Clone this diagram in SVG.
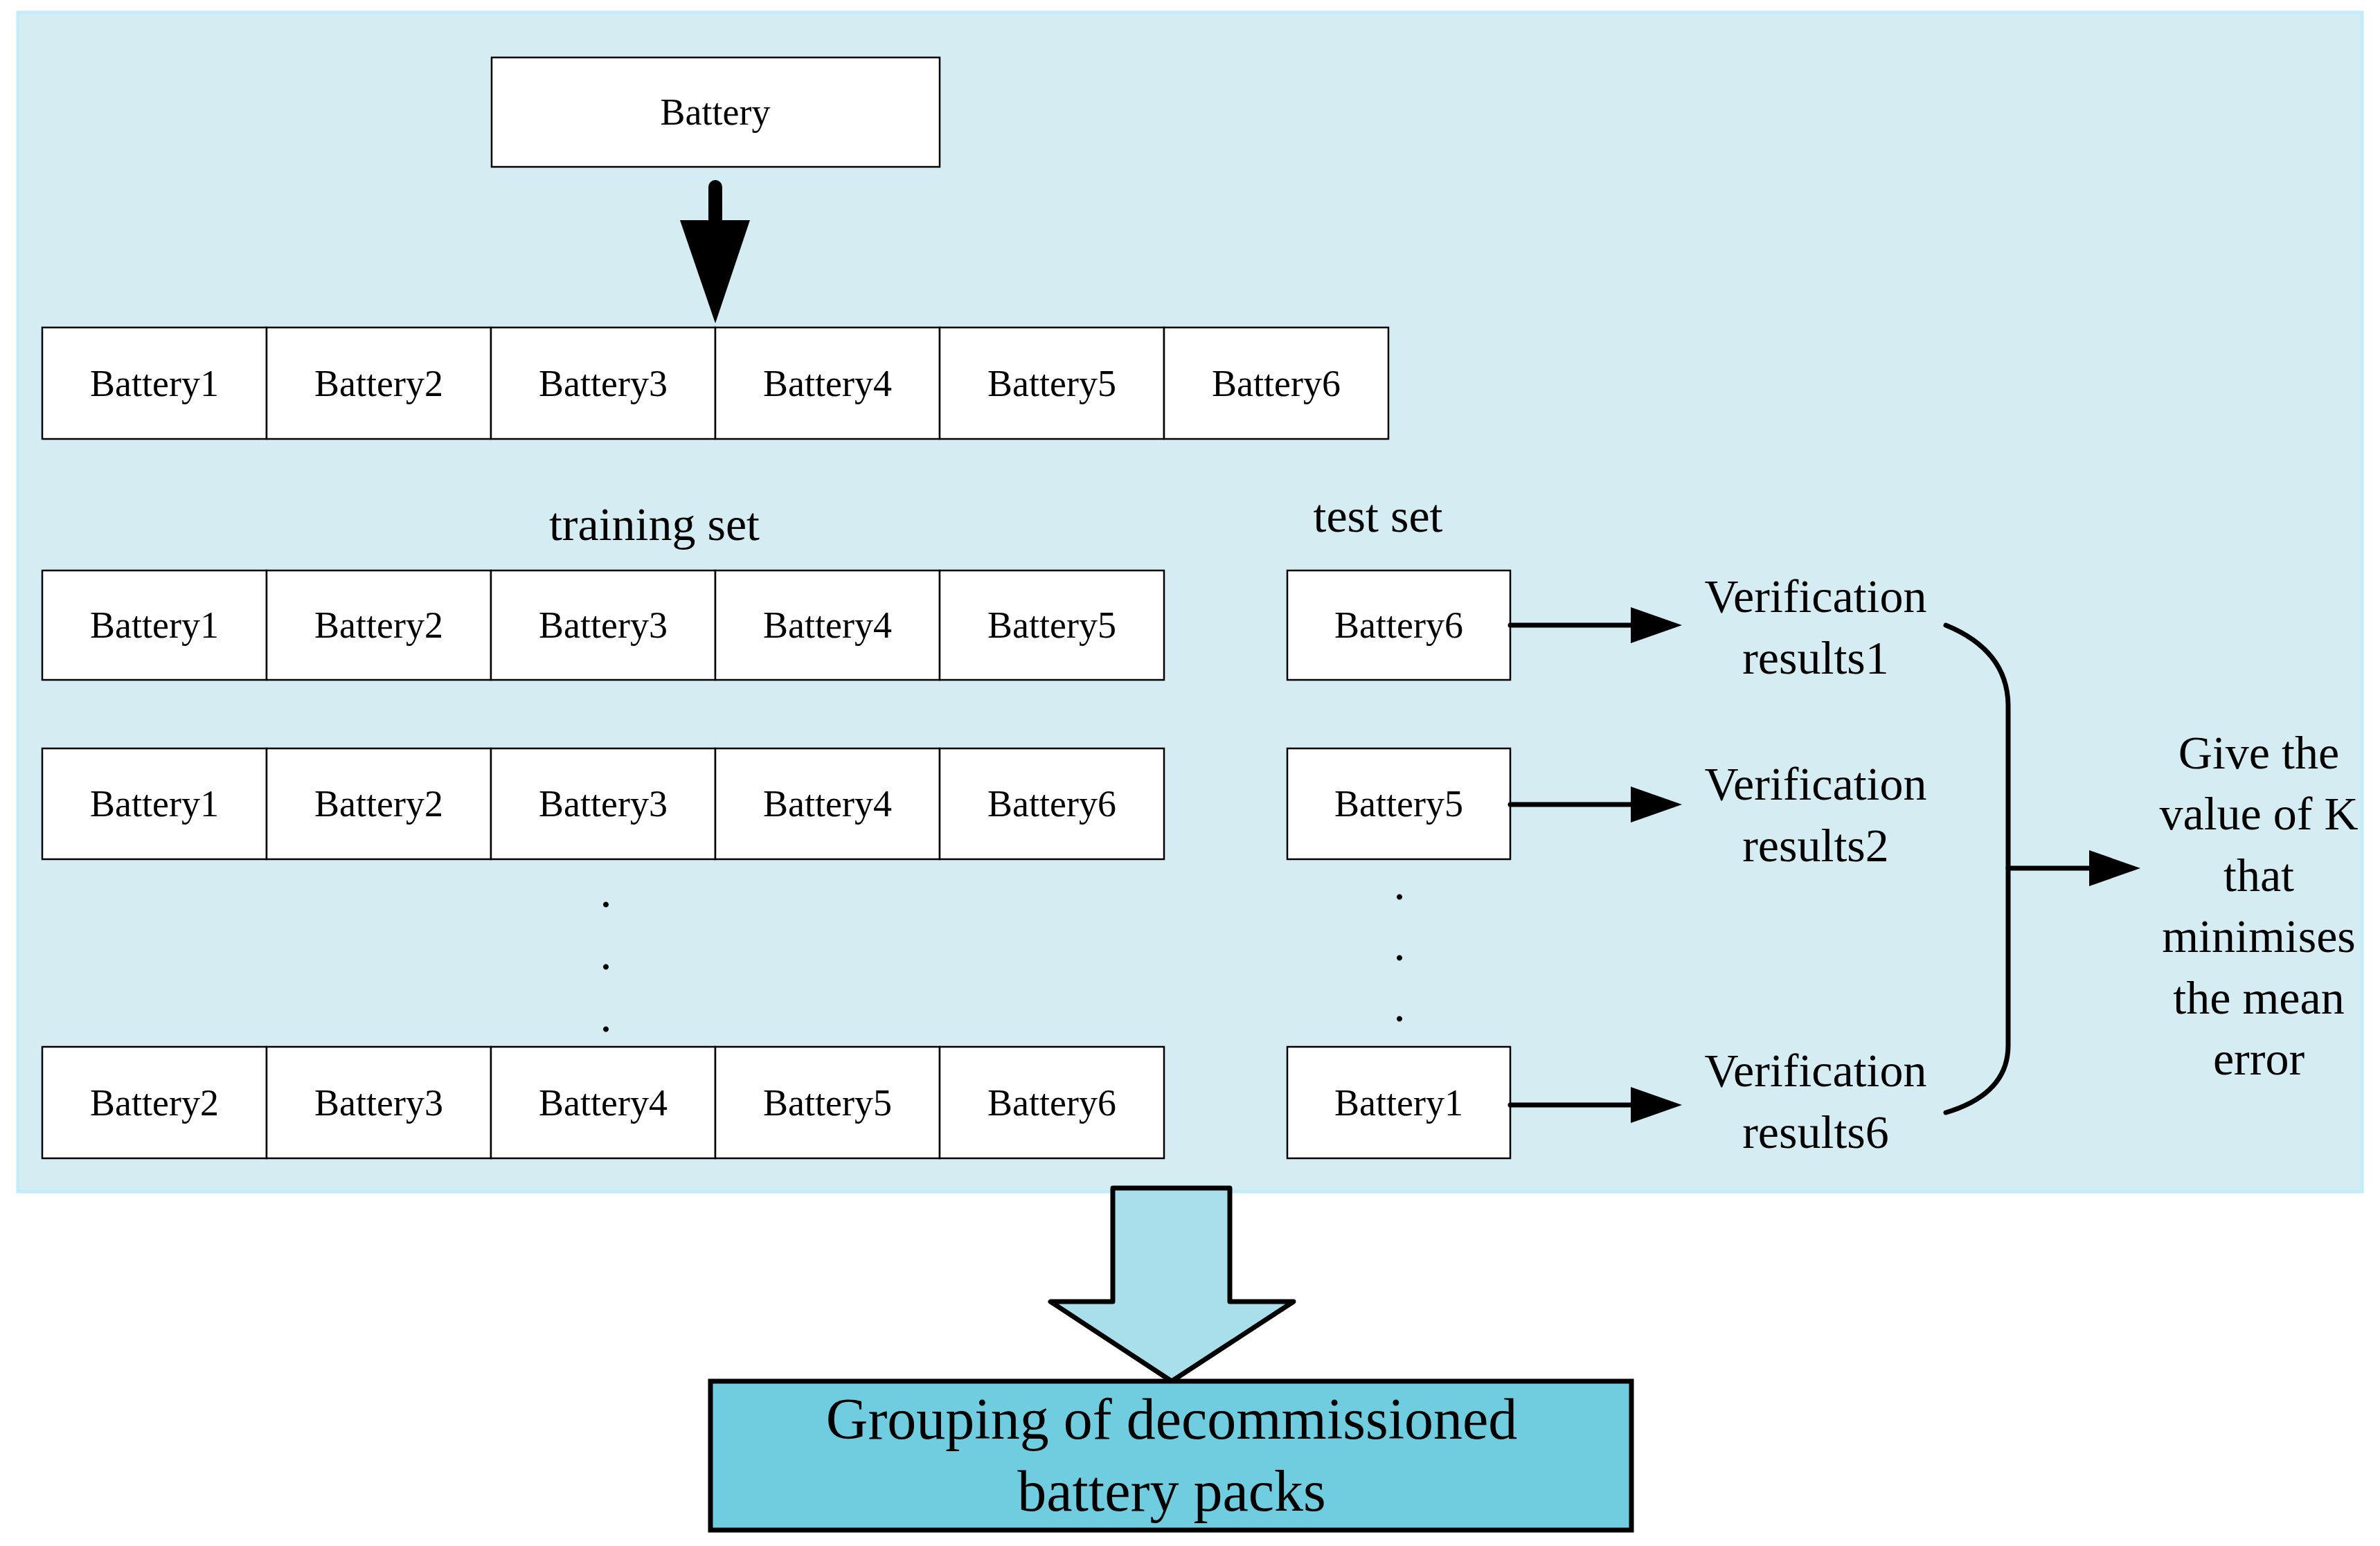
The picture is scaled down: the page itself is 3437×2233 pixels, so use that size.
<svg xmlns="http://www.w3.org/2000/svg" width="3437" height="2233" viewBox="0 0 3437 2233">
<style>
text{font-family:"Liberation Serif","Times New Roman",serif;text-anchor:middle;fill:#000}
.c{fill:#fff;stroke:#000;stroke-width:2.5}
.t{font-size:54px}
.l{font-size:68px}
.a{stroke:#000;stroke-width:7;fill:none;stroke-linecap:round}
.head{fill:#000}
</style>
<rect x="26" y="18" width="3385" height="1703" fill="#d5edf2" stroke="#c3ecfa" stroke-width="5"/>
<g id="battery"><rect class="c" x="710" y="83" width="647" height="158"/><text class="t" x="1033" y="180">Battery</text></g>
<g id="row1">
<rect class="c" x="61" y="473" width="324" height="161"/><text class="t" x="223" y="572">Battery1</text>
<rect class="c" x="385" y="473" width="324" height="161"/><text class="t" x="547" y="572">Battery2</text>
<rect class="c" x="709" y="473" width="324" height="161"/><text class="t" x="871" y="572">Battery3</text>
<rect class="c" x="1033" y="473" width="324" height="161"/><text class="t" x="1195" y="572">Battery4</text>
<rect class="c" x="1357" y="473" width="324" height="161"/><text class="t" x="1519" y="572">Battery5</text>
<rect class="c" x="1681" y="473" width="324" height="161"/><text class="t" x="1843" y="572">Battery6</text>
</g>
<text class="l" x="945" y="780">training set</text>
<text class="l" x="1990" y="768">test set</text>
<g id="row2">
<rect class="c" x="61" y="824" width="324" height="158"/><text class="t" x="223" y="921">Battery1</text>
<rect class="c" x="385" y="824" width="324" height="158"/><text class="t" x="547" y="921">Battery2</text>
<rect class="c" x="709" y="824" width="324" height="158"/><text class="t" x="871" y="921">Battery3</text>
<rect class="c" x="1033" y="824" width="324" height="158"/><text class="t" x="1195" y="921">Battery4</text>
<rect class="c" x="1357" y="824" width="324" height="158"/><text class="t" x="1519" y="921">Battery5</text>
</g>
<g id="row3">
<rect class="c" x="61" y="1081" width="324" height="160"/><text class="t" x="223" y="1179">Battery1</text>
<rect class="c" x="385" y="1081" width="324" height="160"/><text class="t" x="547" y="1179">Battery2</text>
<rect class="c" x="709" y="1081" width="324" height="160"/><text class="t" x="871" y="1179">Battery3</text>
<rect class="c" x="1033" y="1081" width="324" height="160"/><text class="t" x="1195" y="1179">Battery4</text>
<rect class="c" x="1357" y="1081" width="324" height="160"/><text class="t" x="1519" y="1179">Battery6</text>
</g>
<g id="row4">
<rect class="c" x="61" y="1512" width="324" height="161"/><text class="t" x="223" y="1611">Battery2</text>
<rect class="c" x="385" y="1512" width="324" height="161"/><text class="t" x="547" y="1611">Battery3</text>
<rect class="c" x="709" y="1512" width="324" height="161"/><text class="t" x="871" y="1611">Battery4</text>
<rect class="c" x="1033" y="1512" width="324" height="161"/><text class="t" x="1195" y="1611">Battery5</text>
<rect class="c" x="1357" y="1512" width="324" height="161"/><text class="t" x="1519" y="1611">Battery6</text>
</g>
<g id="dots">
<text class="l" x="875" y="1310">.</text><text class="l" x="875" y="1400">.</text><text class="l" x="875" y="1490">.</text>
<text class="l" x="2021" y="1299">.</text><text class="l" x="2021" y="1387">.</text><text class="l" x="2021" y="1475">.</text>
</g>
<g id="test6"><rect class="c" x="1859" y="824" width="322" height="158"/><text class="t" x="2020" y="921">Battery6</text></g>
<g id="test5"><rect class="c" x="1859" y="1081" width="322" height="160"/><text class="t" x="2020" y="1179">Battery5</text></g>
<g id="test1"><rect class="c" x="1859" y="1512" width="322" height="161"/><text class="t" x="2020" y="1611">Battery1</text></g>
<g id="ver1"><text class="l" x="2622" y="884">Verification</text><text class="l" x="2622" y="973">results1</text></g>
<g id="ver2"><text class="l" x="2622" y="1155">Verification</text><text class="l" x="2622" y="1244">results2</text></g>
<g id="ver6"><text class="l" x="2622" y="1569">Verification</text><text class="l" x="2622" y="1658">results6</text></g>
<g id="result"><text class="l" x="3262" y="1110">Give the</text><text class="l" x="3262" y="1198">value of K</text><text class="l" x="3262" y="1287">that</text><text class="l" x="3262" y="1375">minimises</text><text class="l" x="3262" y="1464">the mean</text><text class="l" x="3262" y="1552">error</text></g>
<g id="connectors">
<line x1="1033" y1="270" x2="1033" y2="330" stroke="#000" stroke-width="20" stroke-linecap="round"/>
<polygon class="head" points="982,318 1083,318 1033,467"/>
<line class="a" x1="2181" y1="903" x2="2360" y2="903"/><polygon class="head" points="2355,877 2429,903 2355,929"/>
<line class="a" x1="2181" y1="1162" x2="2360" y2="1162"/><polygon class="head" points="2355,1136 2429,1162 2355,1188"/>
<line class="a" x1="2181" y1="1596" x2="2360" y2="1596"/><polygon class="head" points="2355,1570 2429,1596 2355,1622"/>
<path class="a" d="M2810,903 Q2900,940 2900,1020 L2900,1510 Q2900,1580 2810,1607"/>
<line class="a" x1="2900" y1="1254" x2="3025" y2="1254"/><polygon class="head" points="3017,1228 3091,1254 3017,1280"/>
<polygon points="1607,1716 1776,1716 1776,1880 1868,1880 1692,1995 1517,1880 1607,1880" fill="#a8dfea" stroke="#000" stroke-width="7" stroke-linejoin="round"/>
</g>
<g id="grouping"><rect x="1026" y="1995" width="1330" height="215" fill="#70cde0" stroke="#000" stroke-width="7"/>
<text x="1692" y="2078" font-size="84">Grouping of decommissioned</text><text x="1692" y="2182" font-size="84">battery packs</text></g>
</svg>
